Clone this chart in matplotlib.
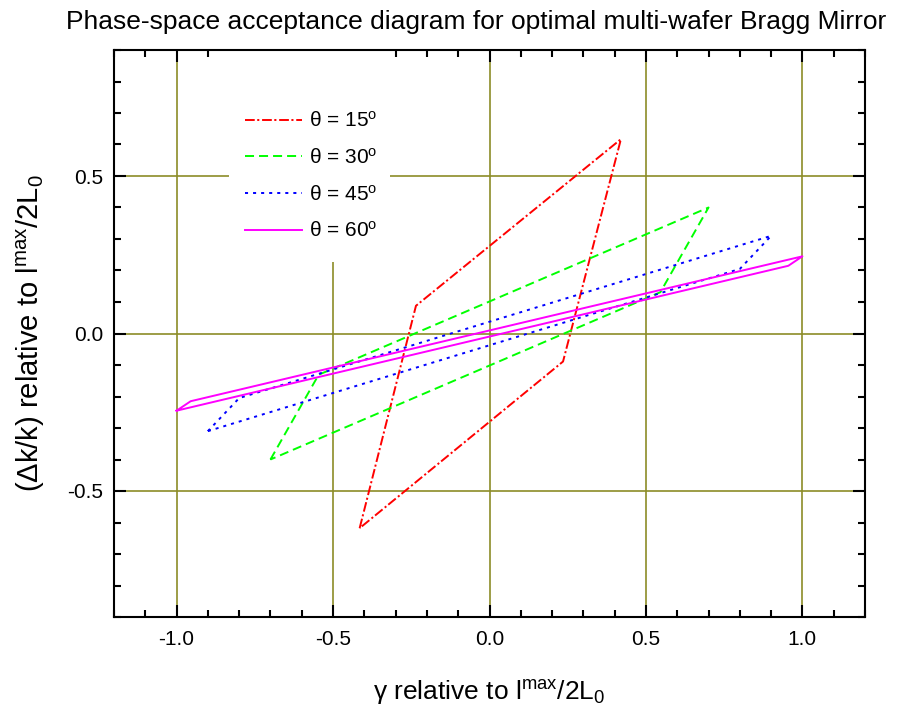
import matplotlib
matplotlib.use('Agg')
import matplotlib.pyplot as plt
from matplotlib.patches import Rectangle
from matplotlib.ticker import MultipleLocator

# Corner points of the acceptance parallelograms (closed)
theta15_x = [-0.415, -0.235, 0.42, 0.235, -0.415]
theta15_y = [-0.618, 0.088, 0.617, -0.089, -0.618]
theta30_x = [-0.70, -0.546, 0.70, 0.546, -0.70]
theta30_y = [-0.40, -0.131, 0.40, 0.131, -0.40]
theta45_x = [-0.90, -0.80, 0.90, 0.80, -0.90]
theta45_y = [-0.31, -0.205, 0.31, 0.205, -0.31]
theta60_x = [-1.0, -0.955, 1.0, 0.955, -1.0]
theta60_y = [-0.245, -0.215, 0.245, 0.215, -0.245]

labels = ['15', '30', '45', '60']
colors = ['#ff0000', '#00ff00', '#0000ff', '#ff00ff']
dashes = [(7, 1.8, 1.5, 2.0), (6.5, 3.6), (2.2, 3.6), ()]

plt.rcParams['font.family'] = ['Liberation Sans', 'DejaVu Sans']
plt.rcParams['mathtext.fontset'] = 'custom'
plt.rcParams['mathtext.rm'] = 'Liberation Sans'
plt.rcParams['mathtext.it'] = 'Liberation Sans:italic'
plt.rcParams['lines.scale_dashes'] = False

fig = plt.figure(figsize=(9, 7.17), dpi=100)
ax = fig.add_axes([114 / 900, 100 / 717, 751 / 900, 567 / 717])

series = [(theta15_x, theta15_y), (theta30_x, theta30_y),
          (theta45_x, theta45_y), (theta60_x, theta60_y)]
for (xs, ys), lab, col, ds in zip(series, labels, colors, dashes):
    line, = ax.plot(xs, ys, color=col, lw=1.4, zorder=3,
                    label='\u03b8 = ' + lab + r'$^{\rm o}$')
    if ds:
        line.set_dashes(ds)

ax.set_xlim(-1.2, 1.2)
ax.set_ylim(-0.9, 0.9)
ax.xaxis.set_minor_locator(MultipleLocator(0.1))
ax.yaxis.set_minor_locator(MultipleLocator(0.1))
ax.set_xticks([-1.0, -0.5, 0.0, 0.5, 1.0])
ax.set_yticks([-0.5, 0.0, 0.5])
ax.set_xticklabels(['-1.0', '-0.5', '0.0', '0.5', '1.0'])
ax.set_yticklabels(['-0.5', '0.0', '0.5'])

ax.tick_params(which='both', direction='in', top=True, right=True, width=1.5)
ax.tick_params(which='major', length=8.6, labelsize=15)
ax.tick_params(which='minor', length=5)
ax.tick_params(axis='x', pad=9.5)
ax.tick_params(axis='y', pad=8)
for s in ax.spines.values():
    s.set_linewidth(1.5)

ax.set_axisbelow(True)
ax.grid(True, which='major', color='#8c8c28', lw=1.2)

# white patch behind the legend hides the grid there
ax.add_patch(Rectangle((0.153, 0.626), 0.215, 0.374, transform=ax.transAxes,
                       facecolor='white', edgecolor='none', zorder=1))
ax.legend(loc='upper left', bbox_to_anchor=(0.1606, 0.911), frameon=False,
          fontsize=15, handlelength=2.75, handletextpad=0.3, labelspacing=0.8,
          borderaxespad=0, borderpad=0.5)

ax.set_xlabel('\u03b3 relative to l$^{\\rm max}$/2L$_{\\rm 0}$', fontsize=19, labelpad=21)
ax.set_ylabel('(\u0394k/k) relative to l$^{\\rm max}$/2L$_{\\rm 0}$', fontsize=21, labelpad=14)
fig.text(476 / 900, 1 - 22 / 717, 'Phase-space acceptance diagram for optimal multi-wafer Bragg Mirror',
         ha='center', va='center', fontsize=19)

fig.savefig('out.png', dpi=100)
